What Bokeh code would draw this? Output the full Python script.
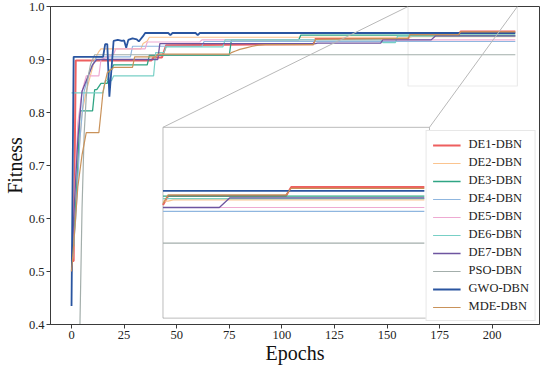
import numpy as np
from bokeh.plotting import figure
from bokeh.models import Range1d, FixedTicker, PrintfTickFormatter, BoxAnnotation
from bokeh.embed import file_html
from bokeh.resources import INLINE

# ---------------- data ----------------
series_names = ["DE1-DBN", "DE2-DBN", "DE3-DBN", "DE4-DBN", "DE5-DBN",
                "DE6-DBN", "DE7-DBN", "PSO-DBN", "GWO-DBN", "MDE-DBN"]

x_de1 = [0, 1, 2, 38, 39, 43, 45, 115, 116, 160, 161, 184, 185, 211]
y_de1 = [0.52, 0.52, 0.898, 0.898, 0.904, 0.904, 0.927, 0.929, 0.939, 0.939, 0.946, 0.946, 0.953, 0.953]

x_de2 = [0, 1, 3, 5, 7, 9, 11, 13, 14, 33, 34, 36, 37, 161, 162, 211]
y_de2 = [0.50, 0.55, 0.70, 0.80, 0.84, 0.87, 0.90, 0.915, 0.92, 0.92, 0.93, 0.935, 0.942, 0.942, 0.943, 0.943]

x_de3 = [0, 1, 3, 4, 10, 11, 12, 14, 17, 18, 19, 20, 36, 37, 75, 76, 108, 109, 211]
y_de3 = [0.52, 0.55, 0.70, 0.803, 0.803, 0.843, 0.843, 0.855, 0.855, 0.88, 0.88, 0.89, 0.89, 0.908, 0.908, 0.937, 0.937, 0.946, 0.946]

x_de4 = [0, 2, 4, 6, 8, 10, 12, 28, 29, 62, 63, 211]
y_de4 = [0.50, 0.60, 0.75, 0.84, 0.87, 0.89, 0.905, 0.905, 0.925, 0.925, 0.934, 0.934]

x_de5 = [0, 1, 3, 5, 7, 13, 14, 20, 21, 35, 36, 61, 62, 211]
y_de5 = [0.50, 0.60, 0.78, 0.84, 0.869, 0.869, 0.90, 0.91, 0.92, 0.92, 0.933, 0.933, 0.937, 0.937]

x_de6 = [0, 1, 15, 16, 19, 20, 39, 40, 44, 45, 72, 73, 147, 148, 154, 155, 211]
y_de6 = [0.837, 0.837, 0.837, 0.86, 0.86, 0.869, 0.869, 0.913, 0.913, 0.924, 0.924, 0.937, 0.937, 0.932, 0.932, 0.944, 0.944]

x_de7 = [0, 1, 3, 5, 8, 10, 12, 41, 42, 116, 117, 147, 148, 171, 173, 211]
y_de7 = [0.50, 0.60, 0.75, 0.84, 0.87, 0.89, 0.90, 0.90, 0.93, 0.93, 0.931, 0.931, 0.937, 0.937, 0.9445, 0.9445]

x_pso = [0, 4, 5, 6, 7, 8, 9, 10, 11, 211]
y_pso = [0.38, 0.40, 0.62, 0.76, 0.83, 0.87, 0.89, 0.90, 0.909, 0.909]

x_gwo = [0, 1, 15, 16, 17, 18, 20, 22, 24, 25, 26, 27, 29, 31, 32, 34, 35, 46, 47, 48, 59, 60, 61, 211]
y_gwo = [0.435, 0.905, 0.905, 0.929, 0.929, 0.830, 0.935, 0.937, 0.935, 0.936, 0.922, 0.937, 0.940, 0.938,
         0.934, 0.944, 0.950, 0.950, 0.946, 0.950, 0.950, 0.946, 0.950, 0.950]

x_mde = [0, 1, 3, 5, 7, 13, 14, 15, 17, 20, 29, 30, 40, 41, 75, 76, 78, 80, 83, 86, 89, 92, 115, 116,
         160, 161, 184, 185, 211]
y_mde = [0.50, 0.55, 0.66, 0.72, 0.762, 0.762, 0.80, 0.84, 0.875, 0.885, 0.885, 0.905, 0.905, 0.91, 0.91,
         0.913, 0.916, 0.919, 0.922, 0.925, 0.927, 0.928, 0.928, 0.938, 0.940, 0.947, 0.947, 0.952, 0.952]

x_ticks = [0, 25, 50, 75, 100, 125, 150, 175, 200]
y_ticks = [0.4, 0.5, 0.6, 0.7, 0.8, 0.9, 1.0]

# zoom window shown in the inset
zoom_x = (160, 212)
zoom_y = (0.85, 1.0)

# ---------------- styles ----------------
colors = ["#ee5f5f", "#fbc48f", "#2fa584", "#8fb6df", "#eeaad2",
          "#78d0c6", "#6e55a0", "#a3aeab", "#2a55a0", "#c9925a"]
widths = [2.0, 1.2, 1.3, 1.2, 1.2, 1.2, 1.3, 1.2, 1.8, 1.2]

all_x = [x_de1, x_de2, x_de3, x_de4, x_de5, x_de6, x_de7, x_pso, x_gwo, x_mde]
all_y = [y_de1, y_de2, y_de3, y_de4, y_de5, y_de6, y_de7, y_pso, y_gwo, y_mde]

FONT = "Liberation Serif"
X0, X1 = -10, 222.5
Y0, Y1 = 0.4, 1.0

p = figure(frame_width=489, frame_height=318, output_backend="svg", toolbar_location=None,
           x_range=Range1d(X0, X1), y_range=Range1d(Y0, Y1),
           min_border_top=6, min_border_right=1, min_border_left=0, min_border_bottom=0)
p.background_fill_color = "white"
p.border_fill_color = "white"
p.xgrid.grid_line_color = None
p.ygrid.grid_line_color = None
p.outline_line_color = "#3a3a3a"
p.outline_line_width = 1

for ax in (p.xaxis[0], p.yaxis[0]):
    ax.axis_line_color = "#3a3a3a"
    ax.major_tick_line_color = "#3a3a3a"
    ax.major_tick_out = 4
    ax.major_tick_in = 0
    ax.minor_tick_line_color = None
    ax.major_label_text_font = FONT
    ax.major_label_text_font_size = "12.5px"
    ax.major_label_text_color = "#222222"
    ax.axis_label_text_font = FONT
    ax.axis_label_text_font_size = "20px"
    ax.axis_label_text_font_style = "normal"
    ax.axis_label_text_color = "#111111"
    ax.major_label_standoff = 2

p.xaxis.ticker = FixedTicker(ticks=x_ticks)
p.yaxis.ticker = FixedTicker(ticks=y_ticks)
p.yaxis.formatter = PrintfTickFormatter(format="%.1f")
p.xaxis.axis_label = "Epochs"
p.yaxis.axis_label = "Fitness"
p.xaxis.axis_label_standoff = 0
p.yaxis.axis_label_standoff = 0

# main lines
for name, xs, ys, c, w in zip(series_names, all_x, all_y, colors, widths):
    p.line(xs, ys, line_color=c, line_width=w, legend_label=name)

# inset placement (fraction of the main axes)
inset_x = (X0 + 0.23 * (X1 - X0), X0 + 0.775 * (X1 - X0))
inset_y = (Y0 + 0.02 * (Y1 - Y0), Y0 + 0.62 * (Y1 - Y0))

p.add_layout(BoxAnnotation(left=inset_x[0], right=inset_x[1], bottom=inset_y[0], top=inset_y[1],
                           fill_color="white", fill_alpha=1.0, line_color="#222222", line_width=1,
                           level="underlay"))
p.add_layout(BoxAnnotation(left=zoom_x[0], right=zoom_x[1], bottom=zoom_y[0], top=zoom_y[1],
                           fill_color=None, line_color="#bdbdbd", line_width=1.2, level="underlay"))
p.segment(x0=[zoom_x[0], zoom_x[1]], y0=[zoom_y[1], zoom_y[1]],
          x1=[inset_x[0], inset_x[1]], y1=[inset_y[1], inset_y[1]],
          line_color="#b8b8b8", line_width=1)

# inset: the zoom window of each series, mapped into the inset box
def to_inset(xs, ys):
    xs = np.asarray(xs, dtype=float)
    ys = np.asarray(ys, dtype=float)
    y0 = float(np.interp(zoom_x[0], xs, ys))
    keep = (xs > zoom_x[0]) & (xs <= zoom_x[1])
    sx = np.concatenate([[zoom_x[0]], xs[keep]])
    sy = np.concatenate([[y0], ys[keep]])
    mx = inset_x[0] + (sx - zoom_x[0]) / (zoom_x[1] - zoom_x[0]) * (inset_x[1] - inset_x[0])
    my = inset_y[0] + (sy - zoom_y[0]) / (zoom_y[1] - zoom_y[0]) * (inset_y[1] - inset_y[0])
    return mx.tolist(), my.tolist()

for xs, ys, c, w in zip(all_x, all_y, colors, widths):
    mx, my = to_inset(xs, ys)
    p.line(x=mx, y=my, line_color=c, line_width=w)

# legend
lg = p.legend[0]
lg.location = "bottom_right"
lg.margin = 3
lg.padding = 6
lg.spacing = 3
lg.label_height = 14
lg.glyph_height = 14
lg.glyph_width = 28
lg.label_standoff = 8
lg.label_text_font = FONT
lg.label_text_font_size = "12.5px"
lg.label_text_color = "#222222"
lg.border_line_color = "#d0d0d0"
lg.background_fill_alpha = 1.0

open("out.html", "w").write(file_html(p, INLINE))
